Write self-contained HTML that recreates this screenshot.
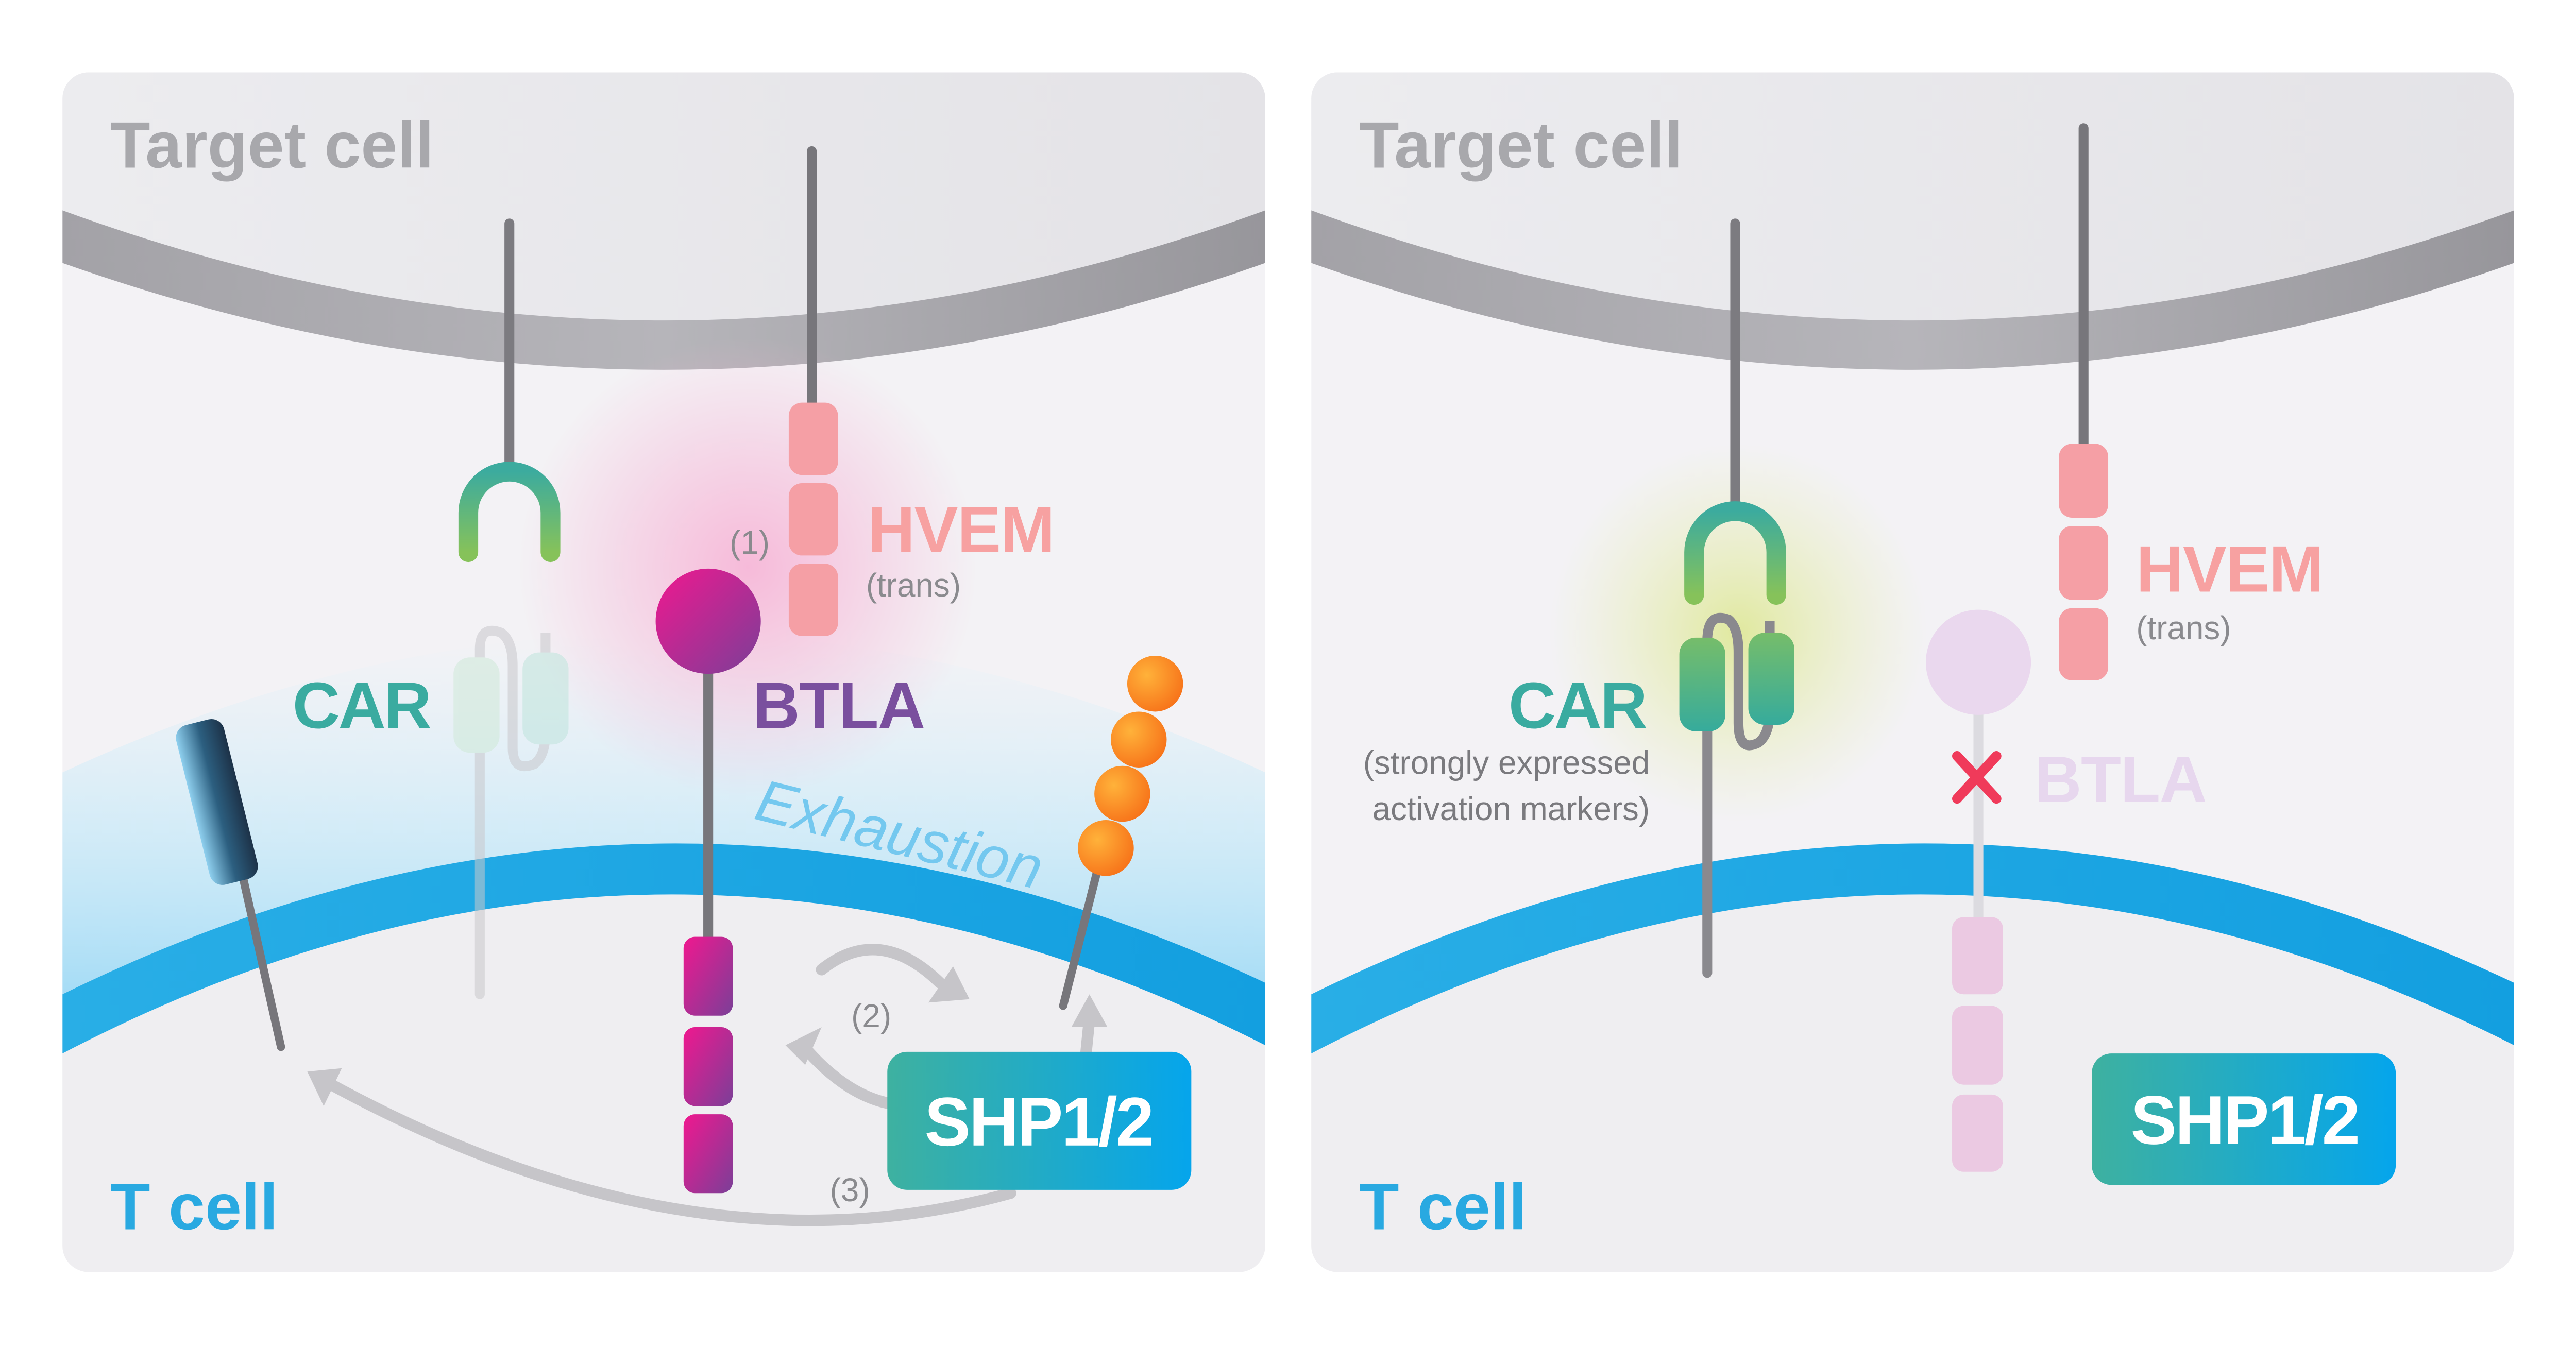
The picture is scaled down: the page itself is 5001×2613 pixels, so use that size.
<!DOCTYPE html>
<html><head><meta charset="utf-8"><style>
html,body{margin:0;padding:0;background:#fff;}
svg{display:block;}
text{font-family:"Liberation Sans",sans-serif;}
</style></head><body>
<svg width="5001" height="2613" viewBox="0 0 1568 819" preserveAspectRatio="none" xmlns="http://www.w3.org/2000/svg">
<defs>
<clipPath id="cl"><rect x="38" y="44" width="732" height="730" rx="16"/></clipPath>
<clipPath id="cr"><rect x="798" y="44" width="732" height="730" rx="16"/></clipPath>
<linearGradient id="mem" x1="0" y1="0" x2="1" y2="0"><stop offset="0" stop-color="#a3a2a7"/><stop offset="0.5" stop-color="#b6b5ba"/><stop offset="1" stop-color="#97969b"/></linearGradient>
<linearGradient id="blue" x1="0" y1="0" x2="1" y2="0"><stop offset="0" stop-color="#29aee6"/><stop offset="1" stop-color="#139fe0"/></linearGradient>
<linearGradient id="shp" x1="0" y1="0" x2="1" y2="0"><stop offset="0" stop-color="#3eb1a0"/><stop offset="1" stop-color="#05a5ec"/></linearGradient>
<linearGradient id="mag" x1="0" y1="0" x2="1" y2="1"><stop offset="0" stop-color="#f0188f"/><stop offset="1" stop-color="#7b3f98"/></linearGradient>
<linearGradient id="arch" x1="0" y1="0" x2="0" y2="1"><stop offset="0" stop-color="#3cab9e"/><stop offset="1" stop-color="#86c25a"/></linearGradient>
<linearGradient id="gt" x1="0" y1="0" x2="0" y2="1"><stop offset="0" stop-color="#76bd6a"/><stop offset="1" stop-color="#36ab9c"/></linearGradient>
<linearGradient id="navy" x1="0" y1="0" x2="1" y2="0"><stop offset="0" stop-color="#8fd0ef"/><stop offset="0.5" stop-color="#2c5f80"/><stop offset="1" stop-color="#1d3248"/></linearGradient>
<radialGradient id="orange" cx="0.35" cy="0.35" r="0.7"><stop offset="0" stop-color="#ffb23a"/><stop offset="1" stop-color="#f7741a"/></radialGradient>
<radialGradient id="pinkglow"><stop offset="0" stop-color="#f7b4d6" stop-opacity="0.9"/><stop offset="1" stop-color="#f7b4d6" stop-opacity="0"/></radialGradient>
<radialGradient id="greenglow"><stop offset="0" stop-color="#dfe89a" stop-opacity="0.95"/><stop offset="1" stop-color="#e8eeb8" stop-opacity="0"/></radialGradient>
<linearGradient id="exh" x1="0" y1="0" x2="0" y2="1"><stop offset="0" stop-color="#d8f0fb" stop-opacity="0"/><stop offset="0.5" stop-color="#c4e9f9" stop-opacity="0.6"/><stop offset="1" stop-color="#a5dcf6" stop-opacity="1"/></linearGradient>
<linearGradient id="tg" x1="0" y1="0" x2="1" y2="0"><stop offset="0" stop-color="#ececef"/><stop offset="1" stop-color="#e4e3e7"/></linearGradient>
</defs>

<!-- LEFT PANEL -->
<g clip-path="url(#cl)">
<rect x="38" y="44" width="732" height="730" fill="#f3f2f5"/>
<path d="M38,44 L770,44 L770,130 Q404,262 38,130 Z" fill="url(#tg)"/>
<path d="M38,128 Q404,262 770,128 L770,160 Q404,290 38,160 Z" fill="url(#mem)"/>
<path d="M38,470 Q404,300 770,470 L770,600 Q404,425 38,605 Z" fill="url(#exh)"/>
<path d="M38,640 Q404,450 770,635 L770,774 L38,774 Z" fill="#efeef1"/>
<path d="M38,605 Q404,425 770,598 L770,636 Q404,450 38,641 Z" fill="url(#blue)"/>
<circle cx="455" cy="345" r="140" fill="url(#pinkglow)"/>
</g>
<text x="67" y="102" font-size="40" font-weight="bold" fill="#a8a8ac">Target cell</text>
<text x="67" y="748" font-size="40" font-weight="bold" fill="#29a9e1">T cell</text>

<!-- CAR left -->
<line x1="310" y1="136" x2="310" y2="282" stroke="#7c7b80" stroke-width="6" stroke-linecap="round"/>
<path d="M285,336 L285,312 A25,25 0 0 1 335,312 L335,336" fill="none" stroke="url(#arch)" stroke-width="12" stroke-linecap="round"/>
<g opacity="0.55">
<line x1="292" y1="395" x2="292" y2="605" stroke="#c9c8cc" stroke-width="6" stroke-linecap="round"/>
<path d="M292,395 Q292,380 305,385 Q312,390 312,405 L312,455 Q312,470 325,465 Q332,460 332,445 L332,385" fill="none" stroke="#c9c8cc" stroke-width="6"/>
<rect x="276" y="400" width="28" height="58" rx="10" fill="#cfe9d8"/>
<rect x="318" y="397" width="28" height="56" rx="10" fill="#bfe5dc"/>
</g>
<text x="178" y="443" font-size="40" font-weight="bold" fill="#3aaba0" letter-spacing="-1">CAR</text>

<!-- HVEM left -->
<line x1="494" y1="92" x2="494" y2="250" stroke="#77767b" stroke-width="6" stroke-linecap="round"/>
<rect x="480" y="245" width="30" height="44" rx="8" fill="#f59fa5"/>
<rect x="480" y="294" width="30" height="44" rx="8" fill="#f59fa5"/>
<rect x="480" y="343" width="30" height="44" rx="8" fill="#f59fa5"/>
<text x="528" y="336" font-size="40" font-weight="bold" fill="#f7a1a1" letter-spacing="-0.5">HVEM</text>
<text x="527" y="363" font-size="20" fill="#8a8a8e">(trans)</text>
<text x="444" y="337" font-size="20" fill="#8a8a8e">(1)</text>

<!-- BTLA left -->
<line x1="431" y1="405" x2="431" y2="575" stroke="#77767b" stroke-width="6"/>
<circle cx="431" cy="378" r="32" fill="url(#mag)"/>
<rect x="416" y="570" width="30" height="48" rx="7" fill="url(#mag)"/>
<rect x="416" y="625" width="30" height="48" rx="7" fill="url(#mag)"/>
<rect x="416" y="678" width="30" height="48" rx="7" fill="url(#mag)"/>
<text x="458" y="443" font-size="40" font-weight="bold" fill="#7a4f9e" letter-spacing="-0.5">BTLA</text>
<text x="458" y="498" font-size="36" font-style="italic" fill="#74c8ef" transform="rotate(14 458 498)">Exhaustion</text>

<!-- navy receptor -->
<line x1="147" y1="530" x2="171" y2="637" stroke="#77767b" stroke-width="5" stroke-linecap="round"/>
<rect x="117" y="438" width="30" height="100" rx="8" fill="url(#navy)" transform="rotate(-14 132 488)"/>

<!-- orange beads -->
<line x1="669" y1="525" x2="647" y2="612" stroke="#77767b" stroke-width="5" stroke-linecap="round"/>
<circle cx="703" cy="416" r="17" fill="url(#orange)"/>
<circle cx="693" cy="450" r="17" fill="url(#orange)"/>
<circle cx="683" cy="483" r="17" fill="url(#orange)"/>
<circle cx="673" cy="516" r="17" fill="url(#orange)"/>

<!-- arrows -->
<g fill="none" stroke="#c6c5c9" stroke-width="7" stroke-linecap="round">
<path d="M500,590 Q535,562 572,598"/>
<path d="M572,670 Q530,682 492,640"/>
<path d="M615,726 Q420,780 198,658"/>
<path d="M661,640 L663,620"/>
</g>
<g fill="#c6c5c9">
<polygon points="565,610 590,608 580,588"/>
<polygon points="478,636 500,625 490,648"/>
<polygon points="187,652 208,650 197,673"/>
<polygon points="652,625 674,625 663,605"/>
</g>
<text x="518" y="625" font-size="20" fill="#8a8a8e">(2)</text>
<text x="505" y="731" font-size="20" fill="#8a8a8e">(3)</text>
<rect x="540" y="640" width="185" height="84" rx="12" fill="url(#shp)"/>
<text x="632" y="697" font-size="42" font-weight="bold" fill="#fff" text-anchor="middle" letter-spacing="-1">SHP1/2</text>

<!-- RIGHT PANEL -->
<g clip-path="url(#cr)">
<rect x="798" y="44" width="732" height="730" fill="#f3f2f5"/>
<path d="M798,44 L1530,44 L1530,130 Q1164,262 798,130 Z" fill="url(#tg)"/>
<path d="M798,128 Q1164,262 1530,128 L1530,160 Q1164,290 798,160 Z" fill="url(#mem)"/>
<path d="M798,640 Q1164,450 1530,635 L1530,774 L798,774 Z" fill="#efeef1"/>
<path d="M798,605 Q1164,425 1530,598 L1530,636 Q1164,450 798,641 Z" fill="url(#blue)"/>
<circle cx="1058" cy="385" r="115" fill="url(#greenglow)"/>
</g>
<text x="827" y="102" font-size="40" font-weight="bold" fill="#a8a8ac">Target cell</text>
<text x="827" y="748" font-size="40" font-weight="bold" fill="#29a9e1">T cell</text>

<line x1="1056" y1="136" x2="1056" y2="310" stroke="#7c7b80" stroke-width="6" stroke-linecap="round"/>
<path d="M1031,362 L1031,336 A25,25 0 0 1 1081,336 L1081,362" fill="none" stroke="url(#arch)" stroke-width="12" stroke-linecap="round"/>
<line x1="1039" y1="390" x2="1039" y2="592" stroke="#8a898e" stroke-width="6" stroke-linecap="round"/>
<path d="M1039,390 Q1039,372 1052,377 Q1058,382 1058,397 L1058,440 Q1058,458 1070,452 Q1077,447 1077,432 L1077,378" fill="none" stroke="#8a898e" stroke-width="6"/>
<rect x="1022" y="388" width="28" height="57" rx="10" fill="url(#gt)"/>
<rect x="1064" y="385" width="28" height="56" rx="10" fill="url(#gt)"/>
<text x="918" y="443" font-size="40" font-weight="bold" fill="#3aaba0" letter-spacing="-1">CAR</text>
<text x="1004" y="471" font-size="20" fill="#7a7a7e" text-anchor="end">(strongly expressed</text>
<text x="1004" y="499" font-size="20" fill="#7a7a7e" text-anchor="end">activation markers)</text>

<line x1="1268" y1="78" x2="1268" y2="275" stroke="#77767b" stroke-width="6" stroke-linecap="round"/>
<rect x="1253" y="270" width="30" height="45" rx="8" fill="#f59fa5"/>
<rect x="1253" y="320" width="30" height="45" rx="8" fill="#f59fa5"/>
<rect x="1253" y="370" width="30" height="44" rx="8" fill="#f59fa5"/>
<text x="1300" y="360" font-size="40" font-weight="bold" fill="#f7a1a1" letter-spacing="-0.5">HVEM</text>
<text x="1300" y="389" font-size="20" fill="#8a8a8e">(trans)</text>

<line x1="1204" y1="430" x2="1204" y2="560" stroke="#dcdbe0" stroke-width="6"/>
<circle cx="1204" cy="403" r="32" fill="#ead8ee"/>
<rect x="1188" y="558" width="31" height="47" rx="7" fill="#ebc9e2"/>
<rect x="1188" y="612" width="31" height="48" rx="7" fill="#ebc9e2"/>
<rect x="1188" y="666" width="31" height="47" rx="7" fill="#ebc9e2"/>
<g stroke="#f03a5a" stroke-width="6" stroke-linecap="round"><line x1="1191" y1="460" x2="1215" y2="486"/><line x1="1215" y1="460" x2="1191" y2="486"/></g>
<text x="1238" y="488" font-size="40" font-weight="bold" fill="#e7d7ee" letter-spacing="-0.5">BTLA</text>

<rect x="1273" y="641" width="185" height="80" rx="12" fill="url(#shp)"/>
<text x="1366" y="696" font-size="42" font-weight="bold" fill="#fff" text-anchor="middle" letter-spacing="-1">SHP1/2</text>
</svg>
</body></html>
